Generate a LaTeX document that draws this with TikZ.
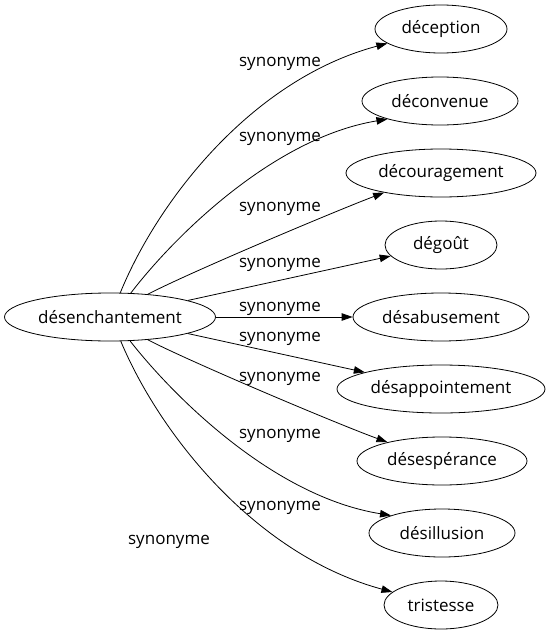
\documentclass[tikz,border=0pt]{standalone}
\usepackage{fontspec}
\setmainfont{Open Sans}
\usetikzlibrary{shapes.geometric,arrows.meta}
\begin{document}
\begin{tikzpicture}[x=1pt,y=1pt,
  word/.style={ellipse,draw,line width=0.8pt,inner sep=0pt,minimum height=48pt,font=\fontsize{17}{20}\selectfont},
  lbl/.style={font=\fontsize{17}{20}\selectfont,inner sep=0pt},
  edge/.style={line width=0.8pt,-{Triangle[length=11pt,width=7.5pt]}}]
\useasboundingbox (0,0) rectangle (550,-635);
\node[word,minimum width=211pt] (src) at (110,-317) {désenchantement};
\node[word,minimum width=132pt] (t1) at (441,-29) {déception};
\node[word,minimum width=156pt] (t2) at (440,-101) {déconvenue};
\node[word,minimum width=190pt] (t3) at (441,-173) {découragement};
\node[word,minimum width=112pt] (t4) at (441,-245) {dégoût};
\node[word,minimum width=176pt] (t5) at (441,-317) {désabusement};
\node[word,minimum width=208pt] (t6) at (441,-389) {désappointement};
\node[word,minimum width=170pt] (t7) at (442,-461) {désespérance};
\node[word,minimum width=146pt] (t8) at (442,-533) {désillusion};
\node[word,minimum width=114pt] (t9) at (441,-605) {tristesse};
\draw[edge] (src.67) .. controls +(38,93) and +(-135,-36) .. (t1.195);
\draw[edge] (src.49) .. controls +(42,55) and +(-115,-19) .. (t2.199);
\draw[edge] (src.31) .. controls +(40,21) and +(-50,-19) .. (t3.199);
\draw[edge] (src.12) -- (t4);
\draw[edge] (src) -- (t5);
\draw[edge] (src.-12) -- (t6);
\draw[edge] (src.-31) .. controls +(40,-21) and +(-52,19) .. (t7.161);
\draw[edge] (src.-50) .. controls +(43,-55) and +(-118,19) .. (t8.161);
\draw[edge] (src.-66) .. controls +(39,-93) and +(-137,37) .. (t9.165);
\node[lbl] (l1) at (280,-64) {synonyme};
\node[lbl] (l2) at (280,-139) {synonyme};
\node[lbl] (l3) at (280,-209) {synonyme};
\node[lbl] (l4) at (280,-265) {synonyme};
\node[lbl] (l5) at (280,-309) {synonyme};
\node[lbl] (l6) at (280,-339) {synonyme};
\node[lbl] (l7) at (280,-379) {synonyme};
\node[lbl] (l8) at (280,-436) {synonyme};
\node[lbl] (l9) at (280,-508) {synonyme};
\node[lbl] (l10) at (169,-542) {synonyme};
\end{tikzpicture}
\end{document}
